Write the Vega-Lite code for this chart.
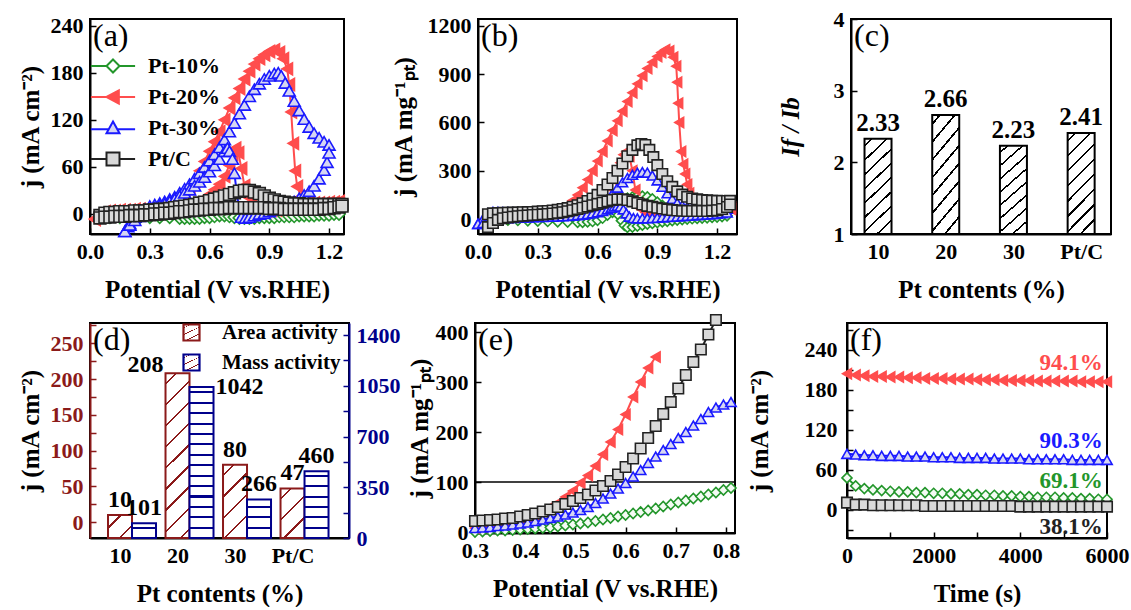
{
"$schema": "https://vega.github.io/schema/vega-lite/v6.json",
"background": "white",
"padding": {"left": 17, "top": 7, "right": 0, "bottom": 0},
"config": {
 "font": "Liberation Serif",
 "view": {"stroke": "black", "strokeWidth": 2},
 "axis": {"labelFont": "Liberation Serif", "labelFontWeight": "bold", "labelFontSize": 22, "labelColor": "black", "titleFont": "Liberation Serif", "titleFontWeight": "bold", "titleFontSize": 25, "titleColor": "black", "domainColor": "black", "domainWidth": 2, "tickColor": "black", "tickWidth": 1.5, "tickSize": -6, "grid": false, "labelPadding": 13, "labelOverlap": false, "labelFlush": false},
 "legend": {"labelFont": "Liberation Serif", "labelFontWeight": "bold", "labelColor": "black"},
 "text": {"font": "Liberation Serif", "fontWeight": "bold", "color": "black"}
},
"datasets": {
"da": [
{"s":"Pt-10%","d":"f","x":0.05,"y":-3},{"s":"Pt-10%","d":"f","x":0.1,"y":-3},{"s":"Pt-10%","d":"f","x":0.15,"y":-3},{"s":"Pt-10%","d":"f","x":0.2,"y":-3},{"s":"Pt-10%","d":"f","x":0.25,"y":-2},{"s":"Pt-10%","d":"f","x":0.3,"y":-2},{"s":"Pt-10%","d":"f","x":0.35,"y":-2},{"s":"Pt-10%","d":"f","x":0.4,"y":-1},{"s":"Pt-10%","d":"f","x":0.45,"y":0},{"s":"Pt-10%","d":"f","x":0.475,"y":0},{"s":"Pt-10%","d":"f","x":0.5,"y":0},{"s":"Pt-10%","d":"f","x":0.525,"y":1},{"s":"Pt-10%","d":"f","x":0.55,"y":1},{"s":"Pt-10%","d":"f","x":0.575,"y":2},{"s":"Pt-10%","d":"f","x":0.6,"y":2},{"s":"Pt-10%","d":"f","x":0.625,"y":3},{"s":"Pt-10%","d":"f","x":0.65,"y":3},{"s":"Pt-10%","d":"f","x":0.675,"y":4},{"s":"Pt-10%","d":"f","x":0.7,"y":4},{"s":"Pt-10%","d":"f","x":0.725,"y":5},{"s":"Pt-10%","d":"f","x":0.75,"y":5},{"s":"Pt-10%","d":"f","x":0.775,"y":4},{"s":"Pt-10%","d":"f","x":0.8,"y":4},{"s":"Pt-10%","d":"f","x":0.825,"y":3},{"s":"Pt-10%","d":"f","x":0.85,"y":3},{"s":"Pt-10%","d":"f","x":0.875,"y":2},{"s":"Pt-10%","d":"f","x":0.9,"y":2},{"s":"Pt-10%","d":"f","x":0.925,"y":2},{"s":"Pt-10%","d":"f","x":0.95,"y":2},{"s":"Pt-10%","d":"f","x":0.975,"y":1},{"s":"Pt-10%","d":"f","x":1.0,"y":1},{"s":"Pt-10%","d":"f","x":1.025,"y":1},{"s":"Pt-10%","d":"f","x":1.05,"y":1},{"s":"Pt-10%","d":"f","x":1.075,"y":1},{"s":"Pt-10%","d":"f","x":1.1,"y":1},{"s":"Pt-10%","d":"f","x":1.125,"y":1},{"s":"Pt-10%","d":"f","x":1.15,"y":2},{"s":"Pt-10%","d":"f","x":1.175,"y":2},{"s":"Pt-10%","d":"f","x":1.2,"y":2},{"s":"Pt-10%","d":"f","x":1.225,"y":3},{"s":"Pt-10%","d":"f","x":1.25,"y":3},
{"s":"Pt-10%","d":"b","x":0.05,"y":-3},{"s":"Pt-10%","d":"b","x":0.1,"y":-4},{"s":"Pt-10%","d":"b","x":0.15,"y":-4},{"s":"Pt-10%","d":"b","x":0.2,"y":-4},{"s":"Pt-10%","d":"b","x":0.25,"y":-4},{"s":"Pt-10%","d":"b","x":0.3,"y":-4},{"s":"Pt-10%","d":"b","x":0.35,"y":-4},{"s":"Pt-10%","d":"b","x":0.4,"y":-4},{"s":"Pt-10%","d":"b","x":0.45,"y":-5},{"s":"Pt-10%","d":"b","x":0.475,"y":-5},{"s":"Pt-10%","d":"b","x":0.5,"y":-5},{"s":"Pt-10%","d":"b","x":0.525,"y":-5},{"s":"Pt-10%","d":"b","x":0.55,"y":-5},{"s":"Pt-10%","d":"b","x":0.575,"y":-4},{"s":"Pt-10%","d":"b","x":0.6,"y":-4},{"s":"Pt-10%","d":"b","x":0.625,"y":-3},{"s":"Pt-10%","d":"b","x":0.65,"y":-2},{"s":"Pt-10%","d":"b","x":0.675,"y":-2},{"s":"Pt-10%","d":"b","x":0.7,"y":-3},{"s":"Pt-10%","d":"b","x":0.725,"y":-4},{"s":"Pt-10%","d":"b","x":0.75,"y":-5},{"s":"Pt-10%","d":"b","x":0.775,"y":-5},{"s":"Pt-10%","d":"b","x":0.8,"y":-5},{"s":"Pt-10%","d":"b","x":0.825,"y":-5},{"s":"Pt-10%","d":"b","x":0.85,"y":-4},{"s":"Pt-10%","d":"b","x":0.875,"y":-4},{"s":"Pt-10%","d":"b","x":0.9,"y":-4},{"s":"Pt-10%","d":"b","x":0.925,"y":-4},{"s":"Pt-10%","d":"b","x":0.95,"y":-3},{"s":"Pt-10%","d":"b","x":0.975,"y":-3},{"s":"Pt-10%","d":"b","x":1.0,"y":-3},{"s":"Pt-10%","d":"b","x":1.025,"y":-3},{"s":"Pt-10%","d":"b","x":1.05,"y":-2},{"s":"Pt-10%","d":"b","x":1.075,"y":-2},{"s":"Pt-10%","d":"b","x":1.1,"y":-2},{"s":"Pt-10%","d":"b","x":1.125,"y":-2},{"s":"Pt-10%","d":"b","x":1.15,"y":-1},{"s":"Pt-10%","d":"b","x":1.175,"y":-1},{"s":"Pt-10%","d":"b","x":1.2,"y":-1},{"s":"Pt-10%","d":"b","x":1.225,"y":0},{"s":"Pt-10%","d":"b","x":1.25,"y":0},
{"s":"Pt-20%","d":"f","x":0.025,"y":-6},{"s":"Pt-20%","d":"f","x":0.05,"y":1},{"s":"Pt-20%","d":"f","x":0.075,"y":3},{"s":"Pt-20%","d":"f","x":0.1,"y":4},{"s":"Pt-20%","d":"f","x":0.125,"y":4},{"s":"Pt-20%","d":"f","x":0.15,"y":5},{"s":"Pt-20%","d":"f","x":0.175,"y":5},{"s":"Pt-20%","d":"f","x":0.2,"y":5},{"s":"Pt-20%","d":"f","x":0.225,"y":6},{"s":"Pt-20%","d":"f","x":0.25,"y":6},{"s":"Pt-20%","d":"f","x":0.275,"y":6},{"s":"Pt-20%","d":"f","x":0.3,"y":7},{"s":"Pt-20%","d":"f","x":0.325,"y":8},{"s":"Pt-20%","d":"f","x":0.35,"y":9},{"s":"Pt-20%","d":"f","x":0.375,"y":11},{"s":"Pt-20%","d":"f","x":0.4,"y":13},{"s":"Pt-20%","d":"f","x":0.425,"y":16},{"s":"Pt-20%","d":"f","x":0.45,"y":20},{"s":"Pt-20%","d":"f","x":0.475,"y":25},{"s":"Pt-20%","d":"f","x":0.5,"y":32},{"s":"Pt-20%","d":"f","x":0.525,"y":42},{"s":"Pt-20%","d":"f","x":0.55,"y":55},{"s":"Pt-20%","d":"f","x":0.575,"y":67},{"s":"Pt-20%","d":"f","x":0.6,"y":80},{"s":"Pt-20%","d":"f","x":0.625,"y":92},{"s":"Pt-20%","d":"f","x":0.65,"y":105},{"s":"Pt-20%","d":"f","x":0.675,"y":120},{"s":"Pt-20%","d":"f","x":0.7,"y":135},{"s":"Pt-20%","d":"f","x":0.725,"y":148},{"s":"Pt-20%","d":"f","x":0.75,"y":160},{"s":"Pt-20%","d":"f","x":0.775,"y":172},{"s":"Pt-20%","d":"f","x":0.8,"y":182},{"s":"Pt-20%","d":"f","x":0.825,"y":191},{"s":"Pt-20%","d":"f","x":0.85,"y":198},{"s":"Pt-20%","d":"f","x":0.875,"y":203},{"s":"Pt-20%","d":"f","x":0.9,"y":207},{"s":"Pt-20%","d":"f","x":0.925,"y":209},{"s":"Pt-20%","d":"f","x":0.95,"y":206},{"s":"Pt-20%","d":"f","x":0.97,"y":198},{"s":"Pt-20%","d":"f","x":0.99,"y":185},{"s":"Pt-20%","d":"f","x":1.0,"y":165},{"s":"Pt-20%","d":"f","x":1.01,"y":130},{"s":"Pt-20%","d":"f","x":1.02,"y":90},{"s":"Pt-20%","d":"f","x":1.03,"y":55},{"s":"Pt-20%","d":"f","x":1.04,"y":35},{"s":"Pt-20%","d":"f","x":1.06,"y":22},{"s":"Pt-20%","d":"f","x":1.08,"y":17},{"s":"Pt-20%","d":"f","x":1.1,"y":15},{"s":"Pt-20%","d":"f","x":1.125,"y":14},{"s":"Pt-20%","d":"f","x":1.15,"y":14},{"s":"Pt-20%","d":"f","x":1.175,"y":14},{"s":"Pt-20%","d":"f","x":1.2,"y":15},{"s":"Pt-20%","d":"f","x":1.225,"y":15},{"s":"Pt-20%","d":"f","x":1.25,"y":16},
{"s":"Pt-20%","d":"b","x":0.025,"y":-7},{"s":"Pt-20%","d":"b","x":0.05,"y":-4},{"s":"Pt-20%","d":"b","x":0.075,"y":-2},{"s":"Pt-20%","d":"b","x":0.1,"y":0},{"s":"Pt-20%","d":"b","x":0.125,"y":1},{"s":"Pt-20%","d":"b","x":0.15,"y":1},{"s":"Pt-20%","d":"b","x":0.175,"y":2},{"s":"Pt-20%","d":"b","x":0.2,"y":2},{"s":"Pt-20%","d":"b","x":0.225,"y":3},{"s":"Pt-20%","d":"b","x":0.25,"y":3},{"s":"Pt-20%","d":"b","x":0.275,"y":4},{"s":"Pt-20%","d":"b","x":0.3,"y":4},{"s":"Pt-20%","d":"b","x":0.325,"y":5},{"s":"Pt-20%","d":"b","x":0.35,"y":5},{"s":"Pt-20%","d":"b","x":0.375,"y":6},{"s":"Pt-20%","d":"b","x":0.4,"y":6},{"s":"Pt-20%","d":"b","x":0.425,"y":7},{"s":"Pt-20%","d":"b","x":0.45,"y":8},{"s":"Pt-20%","d":"b","x":0.475,"y":9},{"s":"Pt-20%","d":"b","x":0.5,"y":11},{"s":"Pt-20%","d":"b","x":0.525,"y":13},{"s":"Pt-20%","d":"b","x":0.55,"y":16},{"s":"Pt-20%","d":"b","x":0.575,"y":20},{"s":"Pt-20%","d":"b","x":0.6,"y":25},{"s":"Pt-20%","d":"b","x":0.625,"y":31},{"s":"Pt-20%","d":"b","x":0.65,"y":38},{"s":"Pt-20%","d":"b","x":0.675,"y":48},{"s":"Pt-20%","d":"b","x":0.7,"y":62},{"s":"Pt-20%","d":"b","x":0.715,"y":76},{"s":"Pt-20%","d":"b","x":0.73,"y":84},{"s":"Pt-20%","d":"b","x":0.745,"y":78},{"s":"Pt-20%","d":"b","x":0.76,"y":58},{"s":"Pt-20%","d":"b","x":0.775,"y":36},{"s":"Pt-20%","d":"b","x":0.79,"y":22},{"s":"Pt-20%","d":"b","x":0.81,"y":12},{"s":"Pt-20%","d":"b","x":0.835,"y":7},{"s":"Pt-20%","d":"b","x":0.86,"y":5},{"s":"Pt-20%","d":"b","x":0.885,"y":4},{"s":"Pt-20%","d":"b","x":0.91,"y":5},{"s":"Pt-20%","d":"b","x":0.935,"y":5},{"s":"Pt-20%","d":"b","x":0.96,"y":6},{"s":"Pt-20%","d":"b","x":0.985,"y":7},{"s":"Pt-20%","d":"b","x":1.01,"y":8},{"s":"Pt-20%","d":"b","x":1.035,"y":8},{"s":"Pt-20%","d":"b","x":1.06,"y":9},{"s":"Pt-20%","d":"b","x":1.085,"y":9},{"s":"Pt-20%","d":"b","x":1.11,"y":10},{"s":"Pt-20%","d":"b","x":1.135,"y":10},{"s":"Pt-20%","d":"b","x":1.16,"y":11},{"s":"Pt-20%","d":"b","x":1.185,"y":11},{"s":"Pt-20%","d":"b","x":1.21,"y":12},{"s":"Pt-20%","d":"b","x":1.235,"y":13},{"s":"Pt-20%","d":"b","x":1.25,"y":14},
{"s":"Pt-30%","d":"f","x":0.175,"y":-22},{"s":"Pt-30%","d":"f","x":0.19,"y":-16},{"s":"Pt-30%","d":"f","x":0.2,"y":-12},{"s":"Pt-30%","d":"f","x":0.225,"y":-4},{"s":"Pt-30%","d":"f","x":0.25,"y":2},{"s":"Pt-30%","d":"f","x":0.275,"y":6},{"s":"Pt-30%","d":"f","x":0.3,"y":10},{"s":"Pt-30%","d":"f","x":0.325,"y":12},{"s":"Pt-30%","d":"f","x":0.35,"y":14},{"s":"Pt-30%","d":"f","x":0.375,"y":16},{"s":"Pt-30%","d":"f","x":0.4,"y":19},{"s":"Pt-30%","d":"f","x":0.425,"y":22},{"s":"Pt-30%","d":"f","x":0.45,"y":27},{"s":"Pt-30%","d":"f","x":0.475,"y":32},{"s":"Pt-30%","d":"f","x":0.5,"y":38},{"s":"Pt-30%","d":"f","x":0.525,"y":45},{"s":"Pt-30%","d":"f","x":0.55,"y":52},{"s":"Pt-30%","d":"f","x":0.575,"y":60},{"s":"Pt-30%","d":"f","x":0.6,"y":68},{"s":"Pt-30%","d":"f","x":0.625,"y":76},{"s":"Pt-30%","d":"f","x":0.65,"y":85},{"s":"Pt-30%","d":"f","x":0.675,"y":95},{"s":"Pt-30%","d":"f","x":0.7,"y":105},{"s":"Pt-30%","d":"f","x":0.725,"y":116},{"s":"Pt-30%","d":"f","x":0.75,"y":128},{"s":"Pt-30%","d":"f","x":0.775,"y":139},{"s":"Pt-30%","d":"f","x":0.8,"y":150},{"s":"Pt-30%","d":"f","x":0.825,"y":159},{"s":"Pt-30%","d":"f","x":0.85,"y":166},{"s":"Pt-30%","d":"f","x":0.875,"y":172},{"s":"Pt-30%","d":"f","x":0.9,"y":176},{"s":"Pt-30%","d":"f","x":0.925,"y":179},{"s":"Pt-30%","d":"f","x":0.945,"y":180},{"s":"Pt-30%","d":"f","x":0.96,"y":176},{"s":"Pt-30%","d":"f","x":0.98,"y":167},{"s":"Pt-30%","d":"f","x":1.0,"y":157},{"s":"Pt-30%","d":"f","x":1.025,"y":144},{"s":"Pt-30%","d":"f","x":1.05,"y":132},{"s":"Pt-30%","d":"f","x":1.075,"y":121},{"s":"Pt-30%","d":"f","x":1.1,"y":111},{"s":"Pt-30%","d":"f","x":1.125,"y":103},{"s":"Pt-30%","d":"f","x":1.15,"y":97},{"s":"Pt-30%","d":"f","x":1.175,"y":92},{"s":"Pt-30%","d":"f","x":1.2,"y":88},
{"s":"Pt-30%","d":"b","x":0.175,"y":-22},{"s":"Pt-30%","d":"b","x":0.2,"y":-14},{"s":"Pt-30%","d":"b","x":0.225,"y":-8},{"s":"Pt-30%","d":"b","x":0.25,"y":-3},{"s":"Pt-30%","d":"b","x":0.275,"y":1},{"s":"Pt-30%","d":"b","x":0.3,"y":5},{"s":"Pt-30%","d":"b","x":0.325,"y":8},{"s":"Pt-30%","d":"b","x":0.35,"y":11},{"s":"Pt-30%","d":"b","x":0.375,"y":13},{"s":"Pt-30%","d":"b","x":0.4,"y":16},{"s":"Pt-30%","d":"b","x":0.425,"y":19},{"s":"Pt-30%","d":"b","x":0.45,"y":23},{"s":"Pt-30%","d":"b","x":0.475,"y":27},{"s":"Pt-30%","d":"b","x":0.5,"y":31},{"s":"Pt-30%","d":"b","x":0.525,"y":36},{"s":"Pt-30%","d":"b","x":0.55,"y":41},{"s":"Pt-30%","d":"b","x":0.575,"y":47},{"s":"Pt-30%","d":"b","x":0.6,"y":54},{"s":"Pt-30%","d":"b","x":0.625,"y":62},{"s":"Pt-30%","d":"b","x":0.65,"y":70},{"s":"Pt-30%","d":"b","x":0.675,"y":80},{"s":"Pt-30%","d":"b","x":0.69,"y":84},{"s":"Pt-30%","d":"b","x":0.7,"y":80},{"s":"Pt-30%","d":"b","x":0.715,"y":70},{"s":"Pt-30%","d":"b","x":0.725,"y":52},{"s":"Pt-30%","d":"b","x":0.735,"y":30},{"s":"Pt-30%","d":"b","x":0.745,"y":10},{"s":"Pt-30%","d":"b","x":0.76,"y":-4},{"s":"Pt-30%","d":"b","x":0.78,"y":-5},{"s":"Pt-30%","d":"b","x":0.8,"y":-4},{"s":"Pt-30%","d":"b","x":0.825,"y":-2},{"s":"Pt-30%","d":"b","x":0.85,"y":0},{"s":"Pt-30%","d":"b","x":0.875,"y":1},{"s":"Pt-30%","d":"b","x":0.9,"y":3},{"s":"Pt-30%","d":"b","x":0.925,"y":5},{"s":"Pt-30%","d":"b","x":0.95,"y":7},{"s":"Pt-30%","d":"b","x":0.975,"y":10},{"s":"Pt-30%","d":"b","x":1.0,"y":13},{"s":"Pt-30%","d":"b","x":1.025,"y":16},{"s":"Pt-30%","d":"b","x":1.05,"y":20},{"s":"Pt-30%","d":"b","x":1.075,"y":24},{"s":"Pt-30%","d":"b","x":1.1,"y":29},{"s":"Pt-30%","d":"b","x":1.125,"y":36},{"s":"Pt-30%","d":"b","x":1.15,"y":45},{"s":"Pt-30%","d":"b","x":1.175,"y":56},{"s":"Pt-30%","d":"b","x":1.19,"y":66},{"s":"Pt-30%","d":"b","x":1.2,"y":78},
{"s":"Pt/C","d":"f","x":0.05,"y":-2},{"s":"Pt/C","d":"f","x":0.075,"y":1},{"s":"Pt/C","d":"f","x":0.1,"y":2},{"s":"Pt/C","d":"f","x":0.125,"y":2},{"s":"Pt/C","d":"f","x":0.15,"y":3},{"s":"Pt/C","d":"f","x":0.175,"y":3},{"s":"Pt/C","d":"f","x":0.2,"y":3},{"s":"Pt/C","d":"f","x":0.225,"y":4},{"s":"Pt/C","d":"f","x":0.25,"y":4},{"s":"Pt/C","d":"f","x":0.275,"y":4},{"s":"Pt/C","d":"f","x":0.3,"y":5},{"s":"Pt/C","d":"f","x":0.325,"y":5},{"s":"Pt/C","d":"f","x":0.35,"y":6},{"s":"Pt/C","d":"f","x":0.375,"y":6},{"s":"Pt/C","d":"f","x":0.4,"y":7},{"s":"Pt/C","d":"f","x":0.425,"y":8},{"s":"Pt/C","d":"f","x":0.45,"y":9},{"s":"Pt/C","d":"f","x":0.475,"y":10},{"s":"Pt/C","d":"f","x":0.5,"y":11},{"s":"Pt/C","d":"f","x":0.525,"y":12},{"s":"Pt/C","d":"f","x":0.55,"y":14},{"s":"Pt/C","d":"f","x":0.575,"y":15},{"s":"Pt/C","d":"f","x":0.6,"y":17},{"s":"Pt/C","d":"f","x":0.625,"y":19},{"s":"Pt/C","d":"f","x":0.65,"y":21},{"s":"Pt/C","d":"f","x":0.675,"y":23},{"s":"Pt/C","d":"f","x":0.7,"y":25},{"s":"Pt/C","d":"f","x":0.725,"y":27},{"s":"Pt/C","d":"f","x":0.75,"y":29},{"s":"Pt/C","d":"f","x":0.775,"y":30},{"s":"Pt/C","d":"f","x":0.8,"y":30},{"s":"Pt/C","d":"f","x":0.825,"y":28},{"s":"Pt/C","d":"f","x":0.85,"y":26},{"s":"Pt/C","d":"f","x":0.875,"y":23},{"s":"Pt/C","d":"f","x":0.9,"y":20},{"s":"Pt/C","d":"f","x":0.925,"y":18},{"s":"Pt/C","d":"f","x":0.95,"y":16},{"s":"Pt/C","d":"f","x":0.975,"y":15},{"s":"Pt/C","d":"f","x":1.0,"y":14},{"s":"Pt/C","d":"f","x":1.025,"y":13},{"s":"Pt/C","d":"f","x":1.05,"y":13},{"s":"Pt/C","d":"f","x":1.075,"y":12},{"s":"Pt/C","d":"f","x":1.1,"y":12},{"s":"Pt/C","d":"f","x":1.125,"y":12},{"s":"Pt/C","d":"f","x":1.15,"y":12},{"s":"Pt/C","d":"f","x":1.175,"y":12},{"s":"Pt/C","d":"f","x":1.2,"y":12},{"s":"Pt/C","d":"f","x":1.225,"y":12},{"s":"Pt/C","d":"f","x":1.25,"y":12},{"s":"Pt/C","d":"f","x":1.265,"y":12},
{"s":"Pt/C","d":"b","x":0.05,"y":-5},{"s":"Pt/C","d":"b","x":0.075,"y":-4},{"s":"Pt/C","d":"b","x":0.1,"y":-4},{"s":"Pt/C","d":"b","x":0.125,"y":-3},{"s":"Pt/C","d":"b","x":0.15,"y":-3},{"s":"Pt/C","d":"b","x":0.175,"y":-3},{"s":"Pt/C","d":"b","x":0.2,"y":-2},{"s":"Pt/C","d":"b","x":0.225,"y":-2},{"s":"Pt/C","d":"b","x":0.25,"y":-2},{"s":"Pt/C","d":"b","x":0.275,"y":-1},{"s":"Pt/C","d":"b","x":0.3,"y":-1},{"s":"Pt/C","d":"b","x":0.325,"y":0},{"s":"Pt/C","d":"b","x":0.35,"y":0},{"s":"Pt/C","d":"b","x":0.375,"y":1},{"s":"Pt/C","d":"b","x":0.4,"y":1},{"s":"Pt/C","d":"b","x":0.425,"y":2},{"s":"Pt/C","d":"b","x":0.45,"y":3},{"s":"Pt/C","d":"b","x":0.475,"y":3},{"s":"Pt/C","d":"b","x":0.5,"y":4},{"s":"Pt/C","d":"b","x":0.525,"y":5},{"s":"Pt/C","d":"b","x":0.55,"y":5},{"s":"Pt/C","d":"b","x":0.575,"y":6},{"s":"Pt/C","d":"b","x":0.6,"y":6},{"s":"Pt/C","d":"b","x":0.625,"y":7},{"s":"Pt/C","d":"b","x":0.65,"y":7},{"s":"Pt/C","d":"b","x":0.675,"y":7},{"s":"Pt/C","d":"b","x":0.7,"y":8},{"s":"Pt/C","d":"b","x":0.725,"y":8},{"s":"Pt/C","d":"b","x":0.75,"y":8},{"s":"Pt/C","d":"b","x":0.775,"y":8},{"s":"Pt/C","d":"b","x":0.8,"y":8},{"s":"Pt/C","d":"b","x":0.825,"y":8},{"s":"Pt/C","d":"b","x":0.85,"y":8},{"s":"Pt/C","d":"b","x":0.875,"y":8},{"s":"Pt/C","d":"b","x":0.9,"y":7},{"s":"Pt/C","d":"b","x":0.925,"y":7},{"s":"Pt/C","d":"b","x":0.95,"y":7},{"s":"Pt/C","d":"b","x":0.975,"y":6},{"s":"Pt/C","d":"b","x":1.0,"y":6},{"s":"Pt/C","d":"b","x":1.025,"y":6},{"s":"Pt/C","d":"b","x":1.05,"y":6},{"s":"Pt/C","d":"b","x":1.075,"y":6},{"s":"Pt/C","d":"b","x":1.1,"y":6},{"s":"Pt/C","d":"b","x":1.125,"y":6},{"s":"Pt/C","d":"b","x":1.15,"y":6},{"s":"Pt/C","d":"b","x":1.175,"y":7},{"s":"Pt/C","d":"b","x":1.2,"y":7},{"s":"Pt/C","d":"b","x":1.225,"y":8},{"s":"Pt/C","d":"b","x":1.25,"y":9},{"s":"Pt/C","d":"b","x":1.265,"y":10}
],
"db": [
{"s":"Pt-10%","d":"f","x":0.05,"y":0},{"s":"Pt-10%","d":"f","x":0.1,"y":3},{"s":"Pt-10%","d":"f","x":0.15,"y":5},{"s":"Pt-10%","d":"f","x":0.2,"y":6},{"s":"Pt-10%","d":"f","x":0.25,"y":7},{"s":"Pt-10%","d":"f","x":0.3,"y":8},{"s":"Pt-10%","d":"f","x":0.35,"y":9},{"s":"Pt-10%","d":"f","x":0.4,"y":11},{"s":"Pt-10%","d":"f","x":0.45,"y":14},{"s":"Pt-10%","d":"f","x":0.475,"y":17},{"s":"Pt-10%","d":"f","x":0.5,"y":20},{"s":"Pt-10%","d":"f","x":0.525,"y":25},{"s":"Pt-10%","d":"f","x":0.55,"y":32},{"s":"Pt-10%","d":"f","x":0.575,"y":42},{"s":"Pt-10%","d":"f","x":0.6,"y":55},{"s":"Pt-10%","d":"f","x":0.625,"y":70},{"s":"Pt-10%","d":"f","x":0.65,"y":85},{"s":"Pt-10%","d":"f","x":0.675,"y":100},{"s":"Pt-10%","d":"f","x":0.7,"y":112},{"s":"Pt-10%","d":"f","x":0.725,"y":122},{"s":"Pt-10%","d":"f","x":0.75,"y":130},{"s":"Pt-10%","d":"f","x":0.775,"y":137},{"s":"Pt-10%","d":"f","x":0.8,"y":141},{"s":"Pt-10%","d":"f","x":0.825,"y":142},{"s":"Pt-10%","d":"f","x":0.85,"y":138},{"s":"Pt-10%","d":"f","x":0.875,"y":125},{"s":"Pt-10%","d":"f","x":0.9,"y":105},{"s":"Pt-10%","d":"f","x":0.925,"y":85},{"s":"Pt-10%","d":"f","x":0.95,"y":70},{"s":"Pt-10%","d":"f","x":0.975,"y":58},{"s":"Pt-10%","d":"f","x":1.0,"y":50},{"s":"Pt-10%","d":"f","x":1.025,"y":45},{"s":"Pt-10%","d":"f","x":1.05,"y":42},{"s":"Pt-10%","d":"f","x":1.075,"y":40},{"s":"Pt-10%","d":"f","x":1.1,"y":40},{"s":"Pt-10%","d":"f","x":1.125,"y":40},{"s":"Pt-10%","d":"f","x":1.15,"y":41},{"s":"Pt-10%","d":"f","x":1.175,"y":42},{"s":"Pt-10%","d":"f","x":1.2,"y":43},{"s":"Pt-10%","d":"f","x":1.225,"y":44},{"s":"Pt-10%","d":"f","x":1.25,"y":45},
{"s":"Pt-10%","d":"b","x":0.05,"y":0},{"s":"Pt-10%","d":"b","x":0.1,"y":-4},{"s":"Pt-10%","d":"b","x":0.15,"y":-7},{"s":"Pt-10%","d":"b","x":0.2,"y":-9},{"s":"Pt-10%","d":"b","x":0.25,"y":-11},{"s":"Pt-10%","d":"b","x":0.3,"y":-13},{"s":"Pt-10%","d":"b","x":0.35,"y":-15},{"s":"Pt-10%","d":"b","x":0.4,"y":-17},{"s":"Pt-10%","d":"b","x":0.45,"y":-19},{"s":"Pt-10%","d":"b","x":0.5,"y":-20},{"s":"Pt-10%","d":"b","x":0.525,"y":-20},{"s":"Pt-10%","d":"b","x":0.55,"y":-18},{"s":"Pt-10%","d":"b","x":0.575,"y":-15},{"s":"Pt-10%","d":"b","x":0.6,"y":-8},{"s":"Pt-10%","d":"b","x":0.625,"y":5},{"s":"Pt-10%","d":"b","x":0.65,"y":25},{"s":"Pt-10%","d":"b","x":0.675,"y":42},{"s":"Pt-10%","d":"b","x":0.69,"y":45},{"s":"Pt-10%","d":"b","x":0.705,"y":25},{"s":"Pt-10%","d":"b","x":0.72,"y":-10},{"s":"Pt-10%","d":"b","x":0.735,"y":-40},{"s":"Pt-10%","d":"b","x":0.75,"y":-52},{"s":"Pt-10%","d":"b","x":0.775,"y":-50},{"s":"Pt-10%","d":"b","x":0.8,"y":-44},{"s":"Pt-10%","d":"b","x":0.825,"y":-38},{"s":"Pt-10%","d":"b","x":0.85,"y":-32},{"s":"Pt-10%","d":"b","x":0.875,"y":-27},{"s":"Pt-10%","d":"b","x":0.9,"y":-22},{"s":"Pt-10%","d":"b","x":0.925,"y":-18},{"s":"Pt-10%","d":"b","x":0.95,"y":-14},{"s":"Pt-10%","d":"b","x":0.975,"y":-10},{"s":"Pt-10%","d":"b","x":1.0,"y":-6},{"s":"Pt-10%","d":"b","x":1.025,"y":-3},{"s":"Pt-10%","d":"b","x":1.05,"y":0},{"s":"Pt-10%","d":"b","x":1.075,"y":2},{"s":"Pt-10%","d":"b","x":1.1,"y":4},{"s":"Pt-10%","d":"b","x":1.125,"y":6},{"s":"Pt-10%","d":"b","x":1.15,"y":8},{"s":"Pt-10%","d":"b","x":1.175,"y":10},{"s":"Pt-10%","d":"b","x":1.2,"y":12},{"s":"Pt-10%","d":"b","x":1.225,"y":15},{"s":"Pt-10%","d":"b","x":1.25,"y":20},
{"s":"Pt-20%","d":"f","x":0.025,"y":-20},{"s":"Pt-20%","d":"f","x":0.05,"y":15},{"s":"Pt-20%","d":"f","x":0.075,"y":25},{"s":"Pt-20%","d":"f","x":0.1,"y":30},{"s":"Pt-20%","d":"f","x":0.125,"y":32},{"s":"Pt-20%","d":"f","x":0.15,"y":33},{"s":"Pt-20%","d":"f","x":0.175,"y":34},{"s":"Pt-20%","d":"f","x":0.2,"y":35},{"s":"Pt-20%","d":"f","x":0.225,"y":36},{"s":"Pt-20%","d":"f","x":0.25,"y":37},{"s":"Pt-20%","d":"f","x":0.275,"y":38},{"s":"Pt-20%","d":"f","x":0.3,"y":40},{"s":"Pt-20%","d":"f","x":0.325,"y":42},{"s":"Pt-20%","d":"f","x":0.35,"y":45},{"s":"Pt-20%","d":"f","x":0.375,"y":50},{"s":"Pt-20%","d":"f","x":0.4,"y":58},{"s":"Pt-20%","d":"f","x":0.425,"y":70},{"s":"Pt-20%","d":"f","x":0.45,"y":88},{"s":"Pt-20%","d":"f","x":0.475,"y":115},{"s":"Pt-20%","d":"f","x":0.5,"y":150},{"s":"Pt-20%","d":"f","x":0.525,"y":195},{"s":"Pt-20%","d":"f","x":0.55,"y":245},{"s":"Pt-20%","d":"f","x":0.575,"y":300},{"s":"Pt-20%","d":"f","x":0.6,"y":360},{"s":"Pt-20%","d":"f","x":0.625,"y":420},{"s":"Pt-20%","d":"f","x":0.65,"y":485},{"s":"Pt-20%","d":"f","x":0.675,"y":550},{"s":"Pt-20%","d":"f","x":0.7,"y":610},{"s":"Pt-20%","d":"f","x":0.725,"y":670},{"s":"Pt-20%","d":"f","x":0.75,"y":730},{"s":"Pt-20%","d":"f","x":0.775,"y":785},{"s":"Pt-20%","d":"f","x":0.8,"y":840},{"s":"Pt-20%","d":"f","x":0.825,"y":890},{"s":"Pt-20%","d":"f","x":0.85,"y":935},{"s":"Pt-20%","d":"f","x":0.875,"y":975},{"s":"Pt-20%","d":"f","x":0.9,"y":1010},{"s":"Pt-20%","d":"f","x":0.92,"y":1035},{"s":"Pt-20%","d":"f","x":0.94,"y":1052},{"s":"Pt-20%","d":"f","x":0.96,"y":1045},{"s":"Pt-20%","d":"f","x":0.98,"y":1005},{"s":"Pt-20%","d":"f","x":0.995,"y":950},{"s":"Pt-20%","d":"f","x":1.0,"y":850},{"s":"Pt-20%","d":"f","x":1.005,"y":720},{"s":"Pt-20%","d":"f","x":1.01,"y":600},{"s":"Pt-20%","d":"f","x":1.02,"y":420},{"s":"Pt-20%","d":"f","x":1.03,"y":340},{"s":"Pt-20%","d":"f","x":1.04,"y":280},{"s":"Pt-20%","d":"f","x":1.05,"y":215},{"s":"Pt-20%","d":"f","x":1.06,"y":160},{"s":"Pt-20%","d":"f","x":1.08,"y":120},{"s":"Pt-20%","d":"f","x":1.1,"y":100},{"s":"Pt-20%","d":"f","x":1.125,"y":85},{"s":"Pt-20%","d":"f","x":1.15,"y":75},{"s":"Pt-20%","d":"f","x":1.175,"y":70},{"s":"Pt-20%","d":"f","x":1.2,"y":68},{"s":"Pt-20%","d":"f","x":1.225,"y":68},{"s":"Pt-20%","d":"f","x":1.25,"y":70},{"s":"Pt-20%","d":"f","x":1.27,"y":72},
{"s":"Pt-20%","d":"b","x":0.025,"y":-25},{"s":"Pt-20%","d":"b","x":0.05,"y":-10},{"s":"Pt-20%","d":"b","x":0.075,"y":0},{"s":"Pt-20%","d":"b","x":0.1,"y":5},{"s":"Pt-20%","d":"b","x":0.125,"y":8},{"s":"Pt-20%","d":"b","x":0.15,"y":10},{"s":"Pt-20%","d":"b","x":0.175,"y":12},{"s":"Pt-20%","d":"b","x":0.2,"y":14},{"s":"Pt-20%","d":"b","x":0.225,"y":16},{"s":"Pt-20%","d":"b","x":0.25,"y":18},{"s":"Pt-20%","d":"b","x":0.275,"y":20},{"s":"Pt-20%","d":"b","x":0.3,"y":22},{"s":"Pt-20%","d":"b","x":0.325,"y":25},{"s":"Pt-20%","d":"b","x":0.35,"y":28},{"s":"Pt-20%","d":"b","x":0.375,"y":31},{"s":"Pt-20%","d":"b","x":0.4,"y":35},{"s":"Pt-20%","d":"b","x":0.425,"y":40},{"s":"Pt-20%","d":"b","x":0.45,"y":46},{"s":"Pt-20%","d":"b","x":0.475,"y":54},{"s":"Pt-20%","d":"b","x":0.5,"y":63},{"s":"Pt-20%","d":"b","x":0.525,"y":75},{"s":"Pt-20%","d":"b","x":0.55,"y":90},{"s":"Pt-20%","d":"b","x":0.575,"y":110},{"s":"Pt-20%","d":"b","x":0.6,"y":135},{"s":"Pt-20%","d":"b","x":0.625,"y":165},{"s":"Pt-20%","d":"b","x":0.65,"y":200},{"s":"Pt-20%","d":"b","x":0.675,"y":245},{"s":"Pt-20%","d":"b","x":0.7,"y":300},{"s":"Pt-20%","d":"b","x":0.715,"y":350},{"s":"Pt-20%","d":"b","x":0.73,"y":400},{"s":"Pt-20%","d":"b","x":0.745,"y":420},{"s":"Pt-20%","d":"b","x":0.76,"y":390},{"s":"Pt-20%","d":"b","x":0.775,"y":300},{"s":"Pt-20%","d":"b","x":0.79,"y":180},{"s":"Pt-20%","d":"b","x":0.805,"y":100},{"s":"Pt-20%","d":"b","x":0.82,"y":60},{"s":"Pt-20%","d":"b","x":0.84,"y":40},{"s":"Pt-20%","d":"b","x":0.86,"y":32},{"s":"Pt-20%","d":"b","x":0.885,"y":30},{"s":"Pt-20%","d":"b","x":0.91,"y":30},{"s":"Pt-20%","d":"b","x":0.935,"y":31},{"s":"Pt-20%","d":"b","x":0.96,"y":32},{"s":"Pt-20%","d":"b","x":0.985,"y":34},{"s":"Pt-20%","d":"b","x":1.01,"y":36},{"s":"Pt-20%","d":"b","x":1.035,"y":38},{"s":"Pt-20%","d":"b","x":1.06,"y":40},{"s":"Pt-20%","d":"b","x":1.085,"y":42},{"s":"Pt-20%","d":"b","x":1.11,"y":44},{"s":"Pt-20%","d":"b","x":1.135,"y":46},{"s":"Pt-20%","d":"b","x":1.16,"y":48},{"s":"Pt-20%","d":"b","x":1.185,"y":50},{"s":"Pt-20%","d":"b","x":1.21,"y":52},{"s":"Pt-20%","d":"b","x":1.235,"y":55},{"s":"Pt-20%","d":"b","x":1.27,"y":60},
{"s":"Pt-30%","d":"f","x":0.0,"y":-30},{"s":"Pt-30%","d":"f","x":0.025,"y":0},{"s":"Pt-30%","d":"f","x":0.05,"y":35},{"s":"Pt-30%","d":"f","x":0.075,"y":45},{"s":"Pt-30%","d":"f","x":0.1,"y":45},{"s":"Pt-30%","d":"f","x":0.125,"y":44},{"s":"Pt-30%","d":"f","x":0.15,"y":43},{"s":"Pt-30%","d":"f","x":0.175,"y":42},{"s":"Pt-30%","d":"f","x":0.2,"y":42},{"s":"Pt-30%","d":"f","x":0.225,"y":42},{"s":"Pt-30%","d":"f","x":0.25,"y":42},{"s":"Pt-30%","d":"f","x":0.275,"y":42},{"s":"Pt-30%","d":"f","x":0.3,"y":42},{"s":"Pt-30%","d":"f","x":0.325,"y":43},{"s":"Pt-30%","d":"f","x":0.35,"y":44},{"s":"Pt-30%","d":"f","x":0.375,"y":45},{"s":"Pt-30%","d":"f","x":0.4,"y":46},{"s":"Pt-30%","d":"f","x":0.425,"y":48},{"s":"Pt-30%","d":"f","x":0.45,"y":50},{"s":"Pt-30%","d":"f","x":0.475,"y":53},{"s":"Pt-30%","d":"f","x":0.5,"y":57},{"s":"Pt-30%","d":"f","x":0.525,"y":62},{"s":"Pt-30%","d":"f","x":0.55,"y":68},{"s":"Pt-30%","d":"f","x":0.575,"y":76},{"s":"Pt-30%","d":"f","x":0.6,"y":88},{"s":"Pt-30%","d":"f","x":0.625,"y":105},{"s":"Pt-30%","d":"f","x":0.65,"y":130},{"s":"Pt-30%","d":"f","x":0.675,"y":160},{"s":"Pt-30%","d":"f","x":0.7,"y":195},{"s":"Pt-30%","d":"f","x":0.725,"y":228},{"s":"Pt-30%","d":"f","x":0.75,"y":255},{"s":"Pt-30%","d":"f","x":0.775,"y":275},{"s":"Pt-30%","d":"f","x":0.8,"y":287},{"s":"Pt-30%","d":"f","x":0.825,"y":292},{"s":"Pt-30%","d":"f","x":0.85,"y":288},{"s":"Pt-30%","d":"f","x":0.875,"y":270},{"s":"Pt-30%","d":"f","x":0.9,"y":240},{"s":"Pt-30%","d":"f","x":0.925,"y":200},{"s":"Pt-30%","d":"f","x":0.95,"y":160},{"s":"Pt-30%","d":"f","x":0.975,"y":125},{"s":"Pt-30%","d":"f","x":1.0,"y":100},{"s":"Pt-30%","d":"f","x":1.025,"y":85},{"s":"Pt-30%","d":"f","x":1.05,"y":75},{"s":"Pt-30%","d":"f","x":1.075,"y":68},{"s":"Pt-30%","d":"f","x":1.1,"y":64},{"s":"Pt-30%","d":"f","x":1.125,"y":62},{"s":"Pt-30%","d":"f","x":1.15,"y":61},{"s":"Pt-30%","d":"f","x":1.175,"y":61},{"s":"Pt-30%","d":"f","x":1.2,"y":62},{"s":"Pt-30%","d":"f","x":1.225,"y":63},{"s":"Pt-30%","d":"f","x":1.25,"y":64},
{"s":"Pt-30%","d":"b","x":0.0,"y":-30},{"s":"Pt-30%","d":"b","x":0.025,"y":-25},{"s":"Pt-30%","d":"b","x":0.05,"y":-15},{"s":"Pt-30%","d":"b","x":0.075,"y":-5},{"s":"Pt-30%","d":"b","x":0.1,"y":0},{"s":"Pt-30%","d":"b","x":0.125,"y":3},{"s":"Pt-30%","d":"b","x":0.15,"y":5},{"s":"Pt-30%","d":"b","x":0.175,"y":7},{"s":"Pt-30%","d":"b","x":0.2,"y":8},{"s":"Pt-30%","d":"b","x":0.225,"y":9},{"s":"Pt-30%","d":"b","x":0.25,"y":10},{"s":"Pt-30%","d":"b","x":0.275,"y":11},{"s":"Pt-30%","d":"b","x":0.3,"y":12},{"s":"Pt-30%","d":"b","x":0.325,"y":13},{"s":"Pt-30%","d":"b","x":0.35,"y":14},{"s":"Pt-30%","d":"b","x":0.375,"y":15},{"s":"Pt-30%","d":"b","x":0.4,"y":16},{"s":"Pt-30%","d":"b","x":0.425,"y":17},{"s":"Pt-30%","d":"b","x":0.45,"y":19},{"s":"Pt-30%","d":"b","x":0.475,"y":21},{"s":"Pt-30%","d":"b","x":0.5,"y":24},{"s":"Pt-30%","d":"b","x":0.525,"y":27},{"s":"Pt-30%","d":"b","x":0.55,"y":31},{"s":"Pt-30%","d":"b","x":0.575,"y":36},{"s":"Pt-30%","d":"b","x":0.6,"y":42},{"s":"Pt-30%","d":"b","x":0.625,"y":50},{"s":"Pt-30%","d":"b","x":0.65,"y":60},{"s":"Pt-30%","d":"b","x":0.67,"y":70},{"s":"Pt-30%","d":"b","x":0.685,"y":78},{"s":"Pt-30%","d":"b","x":0.7,"y":82},{"s":"Pt-30%","d":"b","x":0.715,"y":78},{"s":"Pt-30%","d":"b","x":0.73,"y":60},{"s":"Pt-30%","d":"b","x":0.745,"y":35},{"s":"Pt-30%","d":"b","x":0.76,"y":15},{"s":"Pt-30%","d":"b","x":0.78,"y":6},{"s":"Pt-30%","d":"b","x":0.8,"y":4},{"s":"Pt-30%","d":"b","x":0.825,"y":4},{"s":"Pt-30%","d":"b","x":0.85,"y":5},{"s":"Pt-30%","d":"b","x":0.875,"y":6},{"s":"Pt-30%","d":"b","x":0.9,"y":8},{"s":"Pt-30%","d":"b","x":0.925,"y":10},{"s":"Pt-30%","d":"b","x":0.95,"y":12},{"s":"Pt-30%","d":"b","x":0.975,"y":14},{"s":"Pt-30%","d":"b","x":1.0,"y":16},{"s":"Pt-30%","d":"b","x":1.025,"y":18},{"s":"Pt-30%","d":"b","x":1.05,"y":20},{"s":"Pt-30%","d":"b","x":1.075,"y":22},{"s":"Pt-30%","d":"b","x":1.1,"y":24},{"s":"Pt-30%","d":"b","x":1.125,"y":26},{"s":"Pt-30%","d":"b","x":1.15,"y":28},{"s":"Pt-30%","d":"b","x":1.175,"y":30},{"s":"Pt-30%","d":"b","x":1.2,"y":33},{"s":"Pt-30%","d":"b","x":1.225,"y":36},{"s":"Pt-30%","d":"b","x":1.25,"y":40},
{"s":"Pt/C","d":"f","x":0.05,"y":30},{"s":"Pt/C","d":"f","x":0.075,"y":35},{"s":"Pt/C","d":"f","x":0.1,"y":37},{"s":"Pt/C","d":"f","x":0.125,"y":38},{"s":"Pt/C","d":"f","x":0.15,"y":39},{"s":"Pt/C","d":"f","x":0.175,"y":40},{"s":"Pt/C","d":"f","x":0.2,"y":41},{"s":"Pt/C","d":"f","x":0.225,"y":42},{"s":"Pt/C","d":"f","x":0.25,"y":43},{"s":"Pt/C","d":"f","x":0.275,"y":44},{"s":"Pt/C","d":"f","x":0.3,"y":46},{"s":"Pt/C","d":"f","x":0.325,"y":48},{"s":"Pt/C","d":"f","x":0.35,"y":50},{"s":"Pt/C","d":"f","x":0.375,"y":53},{"s":"Pt/C","d":"f","x":0.4,"y":57},{"s":"Pt/C","d":"f","x":0.425,"y":62},{"s":"Pt/C","d":"f","x":0.45,"y":68},{"s":"Pt/C","d":"f","x":0.475,"y":76},{"s":"Pt/C","d":"f","x":0.5,"y":86},{"s":"Pt/C","d":"f","x":0.525,"y":98},{"s":"Pt/C","d":"f","x":0.55,"y":112},{"s":"Pt/C","d":"f","x":0.575,"y":128},{"s":"Pt/C","d":"f","x":0.6,"y":150},{"s":"Pt/C","d":"f","x":0.625,"y":180},{"s":"Pt/C","d":"f","x":0.65,"y":215},{"s":"Pt/C","d":"f","x":0.675,"y":255},{"s":"Pt/C","d":"f","x":0.7,"y":300},{"s":"Pt/C","d":"f","x":0.725,"y":345},{"s":"Pt/C","d":"f","x":0.75,"y":390},{"s":"Pt/C","d":"f","x":0.775,"y":430},{"s":"Pt/C","d":"f","x":0.8,"y":458},{"s":"Pt/C","d":"f","x":0.82,"y":466},{"s":"Pt/C","d":"f","x":0.84,"y":460},{"s":"Pt/C","d":"f","x":0.86,"y":430},{"s":"Pt/C","d":"f","x":0.88,"y":385},{"s":"Pt/C","d":"f","x":0.9,"y":335},{"s":"Pt/C","d":"f","x":0.925,"y":280},{"s":"Pt/C","d":"f","x":0.95,"y":235},{"s":"Pt/C","d":"f","x":0.975,"y":200},{"s":"Pt/C","d":"f","x":1.0,"y":172},{"s":"Pt/C","d":"f","x":1.025,"y":152},{"s":"Pt/C","d":"f","x":1.05,"y":138},{"s":"Pt/C","d":"f","x":1.075,"y":128},{"s":"Pt/C","d":"f","x":1.1,"y":122},{"s":"Pt/C","d":"f","x":1.125,"y":118},{"s":"Pt/C","d":"f","x":1.15,"y":116},{"s":"Pt/C","d":"f","x":1.175,"y":114},{"s":"Pt/C","d":"f","x":1.2,"y":113},{"s":"Pt/C","d":"f","x":1.225,"y":112},{"s":"Pt/C","d":"f","x":1.25,"y":112},{"s":"Pt/C","d":"f","x":1.265,"y":113},
{"s":"Pt/C","d":"b","x":0.05,"y":-50},{"s":"Pt/C","d":"b","x":0.075,"y":-25},{"s":"Pt/C","d":"b","x":0.1,"y":-5},{"s":"Pt/C","d":"b","x":0.125,"y":5},{"s":"Pt/C","d":"b","x":0.15,"y":10},{"s":"Pt/C","d":"b","x":0.175,"y":14},{"s":"Pt/C","d":"b","x":0.2,"y":17},{"s":"Pt/C","d":"b","x":0.225,"y":20},{"s":"Pt/C","d":"b","x":0.25,"y":22},{"s":"Pt/C","d":"b","x":0.275,"y":25},{"s":"Pt/C","d":"b","x":0.3,"y":27},{"s":"Pt/C","d":"b","x":0.325,"y":29},{"s":"Pt/C","d":"b","x":0.35,"y":31},{"s":"Pt/C","d":"b","x":0.375,"y":34},{"s":"Pt/C","d":"b","x":0.4,"y":38},{"s":"Pt/C","d":"b","x":0.425,"y":42},{"s":"Pt/C","d":"b","x":0.45,"y":48},{"s":"Pt/C","d":"b","x":0.475,"y":55},{"s":"Pt/C","d":"b","x":0.5,"y":62},{"s":"Pt/C","d":"b","x":0.525,"y":70},{"s":"Pt/C","d":"b","x":0.55,"y":78},{"s":"Pt/C","d":"b","x":0.575,"y":86},{"s":"Pt/C","d":"b","x":0.6,"y":94},{"s":"Pt/C","d":"b","x":0.625,"y":102},{"s":"Pt/C","d":"b","x":0.65,"y":110},{"s":"Pt/C","d":"b","x":0.675,"y":118},{"s":"Pt/C","d":"b","x":0.7,"y":122},{"s":"Pt/C","d":"b","x":0.725,"y":122},{"s":"Pt/C","d":"b","x":0.75,"y":118},{"s":"Pt/C","d":"b","x":0.775,"y":110},{"s":"Pt/C","d":"b","x":0.8,"y":100},{"s":"Pt/C","d":"b","x":0.825,"y":90},{"s":"Pt/C","d":"b","x":0.85,"y":82},{"s":"Pt/C","d":"b","x":0.875,"y":76},{"s":"Pt/C","d":"b","x":0.9,"y":70},{"s":"Pt/C","d":"b","x":0.925,"y":65},{"s":"Pt/C","d":"b","x":0.95,"y":60},{"s":"Pt/C","d":"b","x":0.975,"y":56},{"s":"Pt/C","d":"b","x":1.0,"y":53},{"s":"Pt/C","d":"b","x":1.025,"y":51},{"s":"Pt/C","d":"b","x":1.05,"y":50},{"s":"Pt/C","d":"b","x":1.075,"y":50},{"s":"Pt/C","d":"b","x":1.1,"y":50},{"s":"Pt/C","d":"b","x":1.125,"y":50},{"s":"Pt/C","d":"b","x":1.15,"y":50},{"s":"Pt/C","d":"b","x":1.175,"y":52},{"s":"Pt/C","d":"b","x":1.2,"y":55},{"s":"Pt/C","d":"b","x":1.225,"y":62},{"s":"Pt/C","d":"b","x":1.25,"y":75},{"s":"Pt/C","d":"b","x":1.265,"y":90}
],
"de": [
{"s":"Pt-10%","x":0.3,"y":0},{"s":"Pt-10%","x":0.315,"y":1},{"s":"Pt-10%","x":0.33,"y":2},{"s":"Pt-10%","x":0.345,"y":3},{"s":"Pt-10%","x":0.36,"y":3},{"s":"Pt-10%","x":0.375,"y":4},{"s":"Pt-10%","x":0.39,"y":5},{"s":"Pt-10%","x":0.405,"y":6},{"s":"Pt-10%","x":0.42,"y":7},{"s":"Pt-10%","x":0.435,"y":8},{"s":"Pt-10%","x":0.45,"y":9},{"s":"Pt-10%","x":0.465,"y":11},{"s":"Pt-10%","x":0.48,"y":13},{"s":"Pt-10%","x":0.495,"y":15},{"s":"Pt-10%","x":0.51,"y":17},{"s":"Pt-10%","x":0.525,"y":19},{"s":"Pt-10%","x":0.54,"y":22},{"s":"Pt-10%","x":0.555,"y":25},{"s":"Pt-10%","x":0.57,"y":28},{"s":"Pt-10%","x":0.585,"y":31},{"s":"Pt-10%","x":0.6,"y":34},{"s":"Pt-10%","x":0.615,"y":37},{"s":"Pt-10%","x":0.63,"y":40},{"s":"Pt-10%","x":0.645,"y":43},{"s":"Pt-10%","x":0.66,"y":47},{"s":"Pt-10%","x":0.675,"y":51},{"s":"Pt-10%","x":0.69,"y":55},{"s":"Pt-10%","x":0.705,"y":59},{"s":"Pt-10%","x":0.72,"y":63},{"s":"Pt-10%","x":0.735,"y":67},{"s":"Pt-10%","x":0.75,"y":71},{"s":"Pt-10%","x":0.765,"y":75},{"s":"Pt-10%","x":0.78,"y":79},{"s":"Pt-10%","x":0.795,"y":84},{"s":"Pt-10%","x":0.81,"y":88},
{"s":"Pt-20%","x":0.3,"y":8},{"s":"Pt-20%","x":0.315,"y":10},{"s":"Pt-20%","x":0.33,"y":12},{"s":"Pt-20%","x":0.345,"y":15},{"s":"Pt-20%","x":0.36,"y":18},{"s":"Pt-20%","x":0.375,"y":21},{"s":"Pt-20%","x":0.39,"y":25},{"s":"Pt-20%","x":0.405,"y":29},{"s":"Pt-20%","x":0.42,"y":34},{"s":"Pt-20%","x":0.435,"y":42},{"s":"Pt-20%","x":0.45,"y":50},{"s":"Pt-20%","x":0.465,"y":58},{"s":"Pt-20%","x":0.48,"y":70},{"s":"Pt-20%","x":0.495,"y":82},{"s":"Pt-20%","x":0.51,"y":98},{"s":"Pt-20%","x":0.525,"y":113},{"s":"Pt-20%","x":0.54,"y":132},{"s":"Pt-20%","x":0.555,"y":155},{"s":"Pt-20%","x":0.57,"y":180},{"s":"Pt-20%","x":0.585,"y":205},{"s":"Pt-20%","x":0.6,"y":235},{"s":"Pt-20%","x":0.615,"y":270},{"s":"Pt-20%","x":0.63,"y":300},{"s":"Pt-20%","x":0.645,"y":328},{"s":"Pt-20%","x":0.66,"y":350},
{"s":"Pt-30%","x":0.3,"y":8},{"s":"Pt-30%","x":0.315,"y":9},{"s":"Pt-30%","x":0.33,"y":10},{"s":"Pt-30%","x":0.345,"y":12},{"s":"Pt-30%","x":0.36,"y":13},{"s":"Pt-30%","x":0.375,"y":15},{"s":"Pt-30%","x":0.39,"y":17},{"s":"Pt-30%","x":0.405,"y":19},{"s":"Pt-30%","x":0.42,"y":22},{"s":"Pt-30%","x":0.435,"y":25},{"s":"Pt-30%","x":0.45,"y":28},{"s":"Pt-30%","x":0.465,"y":31},{"s":"Pt-30%","x":0.48,"y":35},{"s":"Pt-30%","x":0.495,"y":39},{"s":"Pt-30%","x":0.51,"y":44},{"s":"Pt-30%","x":0.525,"y":50},{"s":"Pt-30%","x":0.54,"y":58},{"s":"Pt-30%","x":0.555,"y":67},{"s":"Pt-30%","x":0.57,"y":77},{"s":"Pt-30%","x":0.585,"y":87},{"s":"Pt-30%","x":0.6,"y":98},{"s":"Pt-30%","x":0.615,"y":111},{"s":"Pt-30%","x":0.63,"y":124},{"s":"Pt-30%","x":0.645,"y":138},{"s":"Pt-30%","x":0.66,"y":151},{"s":"Pt-30%","x":0.675,"y":164},{"s":"Pt-30%","x":0.69,"y":176},{"s":"Pt-30%","x":0.705,"y":188},{"s":"Pt-30%","x":0.72,"y":200},{"s":"Pt-30%","x":0.735,"y":213},{"s":"Pt-30%","x":0.75,"y":226},{"s":"Pt-30%","x":0.765,"y":240},{"s":"Pt-30%","x":0.78,"y":249},{"s":"Pt-30%","x":0.795,"y":255},{"s":"Pt-30%","x":0.81,"y":260},
{"s":"Pt/C","x":0.3,"y":22},{"s":"Pt/C","x":0.315,"y":23},{"s":"Pt/C","x":0.33,"y":24},{"s":"Pt/C","x":0.345,"y":25},{"s":"Pt/C","x":0.36,"y":27},{"s":"Pt/C","x":0.375,"y":28},{"s":"Pt/C","x":0.39,"y":31},{"s":"Pt/C","x":0.405,"y":34},{"s":"Pt/C","x":0.42,"y":37},{"s":"Pt/C","x":0.435,"y":41},{"s":"Pt/C","x":0.45,"y":45},{"s":"Pt/C","x":0.465,"y":50},{"s":"Pt/C","x":0.48,"y":56},{"s":"Pt/C","x":0.495,"y":62},{"s":"Pt/C","x":0.51,"y":68},{"s":"Pt/C","x":0.525,"y":75},{"s":"Pt/C","x":0.54,"y":83},{"s":"Pt/C","x":0.555,"y":92},{"s":"Pt/C","x":0.57,"y":102},{"s":"Pt/C","x":0.585,"y":115},{"s":"Pt/C","x":0.6,"y":130},{"s":"Pt/C","x":0.615,"y":147},{"s":"Pt/C","x":0.63,"y":167},{"s":"Pt/C","x":0.645,"y":188},{"s":"Pt/C","x":0.66,"y":212},{"s":"Pt/C","x":0.675,"y":236},{"s":"Pt/C","x":0.69,"y":260},{"s":"Pt/C","x":0.705,"y":287},{"s":"Pt/C","x":0.72,"y":314},{"s":"Pt/C","x":0.735,"y":340},{"s":"Pt/C","x":0.75,"y":365},{"s":"Pt/C","x":0.765,"y":395},{"s":"Pt/C","x":0.78,"y":424}
],
"df": [
{"s":"Pt-10%","x":0,"y":48},{"s":"Pt-10%","x":200,"y":36},{"s":"Pt-10%","x":400,"y":32},{"s":"Pt-10%","x":600,"y":30},{"s":"Pt-10%","x":800,"y":29},{"s":"Pt-10%","x":1000,"y":28},{"s":"Pt-10%","x":1200,"y":27},{"s":"Pt-10%","x":1400,"y":27},{"s":"Pt-10%","x":1600,"y":26},{"s":"Pt-10%","x":1800,"y":26},{"s":"Pt-10%","x":2000,"y":25},{"s":"Pt-10%","x":2200,"y":25},{"s":"Pt-10%","x":2400,"y":24},{"s":"Pt-10%","x":2600,"y":24},{"s":"Pt-10%","x":2800,"y":23},{"s":"Pt-10%","x":3000,"y":23},{"s":"Pt-10%","x":3200,"y":22},{"s":"Pt-10%","x":3400,"y":22},{"s":"Pt-10%","x":3600,"y":21},{"s":"Pt-10%","x":3800,"y":21},{"s":"Pt-10%","x":4000,"y":20},{"s":"Pt-10%","x":4200,"y":20},{"s":"Pt-10%","x":4400,"y":19},{"s":"Pt-10%","x":4600,"y":19},{"s":"Pt-10%","x":4800,"y":19},{"s":"Pt-10%","x":5000,"y":18},{"s":"Pt-10%","x":5200,"y":18},{"s":"Pt-10%","x":5400,"y":17},{"s":"Pt-10%","x":5600,"y":17},{"s":"Pt-10%","x":5800,"y":16},{"s":"Pt-10%","x":6000,"y":16},
{"s":"Pt-20%","x":0,"y":204},{"s":"Pt-20%","x":200,"y":202},{"s":"Pt-20%","x":400,"y":201},{"s":"Pt-20%","x":600,"y":200},{"s":"Pt-20%","x":800,"y":200},{"s":"Pt-20%","x":1000,"y":199},{"s":"Pt-20%","x":1200,"y":199},{"s":"Pt-20%","x":1400,"y":198},{"s":"Pt-20%","x":1600,"y":198},{"s":"Pt-20%","x":1800,"y":197},{"s":"Pt-20%","x":2000,"y":197},{"s":"Pt-20%","x":2200,"y":197},{"s":"Pt-20%","x":2400,"y":196},{"s":"Pt-20%","x":2600,"y":196},{"s":"Pt-20%","x":2800,"y":196},{"s":"Pt-20%","x":3000,"y":195},{"s":"Pt-20%","x":3200,"y":195},{"s":"Pt-20%","x":3400,"y":195},{"s":"Pt-20%","x":3600,"y":194},{"s":"Pt-20%","x":3800,"y":194},{"s":"Pt-20%","x":4000,"y":194},{"s":"Pt-20%","x":4200,"y":194},{"s":"Pt-20%","x":4400,"y":193},{"s":"Pt-20%","x":4600,"y":193},{"s":"Pt-20%","x":4800,"y":193},{"s":"Pt-20%","x":5000,"y":193},{"s":"Pt-20%","x":5200,"y":193},{"s":"Pt-20%","x":5400,"y":192},{"s":"Pt-20%","x":5600,"y":192},{"s":"Pt-20%","x":5800,"y":192},{"s":"Pt-20%","x":6000,"y":192},
{"s":"Pt-30%","x":0,"y":84},{"s":"Pt-30%","x":200,"y":83},{"s":"Pt-30%","x":400,"y":82},{"s":"Pt-30%","x":600,"y":82},{"s":"Pt-30%","x":800,"y":81},{"s":"Pt-30%","x":1000,"y":81},{"s":"Pt-30%","x":1200,"y":81},{"s":"Pt-30%","x":1400,"y":80},{"s":"Pt-30%","x":1600,"y":80},{"s":"Pt-30%","x":1800,"y":80},{"s":"Pt-30%","x":2000,"y":79},{"s":"Pt-30%","x":2200,"y":79},{"s":"Pt-30%","x":2400,"y":79},{"s":"Pt-30%","x":2600,"y":78},{"s":"Pt-30%","x":2800,"y":78},{"s":"Pt-30%","x":3000,"y":78},{"s":"Pt-30%","x":3200,"y":78},{"s":"Pt-30%","x":3400,"y":77},{"s":"Pt-30%","x":3600,"y":77},{"s":"Pt-30%","x":3800,"y":77},{"s":"Pt-30%","x":4000,"y":77},{"s":"Pt-30%","x":4200,"y":76},{"s":"Pt-30%","x":4400,"y":76},{"s":"Pt-30%","x":4600,"y":76},{"s":"Pt-30%","x":4800,"y":76},{"s":"Pt-30%","x":5000,"y":76},{"s":"Pt-30%","x":5200,"y":75},{"s":"Pt-30%","x":5400,"y":75},{"s":"Pt-30%","x":5600,"y":75},{"s":"Pt-30%","x":5800,"y":75},{"s":"Pt-30%","x":6000,"y":75},
{"s":"Pt/C","x":0,"y":11},{"s":"Pt/C","x":200,"y":8},{"s":"Pt/C","x":400,"y":8},{"s":"Pt/C","x":600,"y":7},{"s":"Pt/C","x":800,"y":7},{"s":"Pt/C","x":1000,"y":7},{"s":"Pt/C","x":1200,"y":7},{"s":"Pt/C","x":1400,"y":7},{"s":"Pt/C","x":1600,"y":7},{"s":"Pt/C","x":1800,"y":6},{"s":"Pt/C","x":2000,"y":6},{"s":"Pt/C","x":2200,"y":6},{"s":"Pt/C","x":2400,"y":6},{"s":"Pt/C","x":2600,"y":6},{"s":"Pt/C","x":2800,"y":6},{"s":"Pt/C","x":3000,"y":6},{"s":"Pt/C","x":3200,"y":6},{"s":"Pt/C","x":3400,"y":6},{"s":"Pt/C","x":3600,"y":6},{"s":"Pt/C","x":3800,"y":6},{"s":"Pt/C","x":4000,"y":5},{"s":"Pt/C","x":4200,"y":5},{"s":"Pt/C","x":4400,"y":5},{"s":"Pt/C","x":4600,"y":5},{"s":"Pt/C","x":4800,"y":5},{"s":"Pt/C","x":5000,"y":5},{"s":"Pt/C","x":5200,"y":5},{"s":"Pt/C","x":5400,"y":5},{"s":"Pt/C","x":5600,"y":5},{"s":"Pt/C","x":5800,"y":5},{"s":"Pt/C","x":6000,"y":5}
],
"dd": [
{"c":"10","v":10,"series":"Area activity"},{"c":"20","v":208,"series":"Area activity"},{"c":"30","v":80,"series":"Area activity"},{"c":"Pt/C","v":47,"series":"Area activity"},
{"c":"10","v":101,"series":"Mass activity"},{"c":"20","v":1042,"series":"Mass activity"},{"c":"30","v":266,"series":"Mass activity"},{"c":"Pt/C","v":460,"series":"Mass activity"}
]
},
"resolve": {"scale": {"color": "independent", "stroke": "independent", "fill": "independent", "shape": "independent", "size": "independent"}},
"vconcat": [
{"hconcat": [
 {
  "width": 254, "height": 215,
  "data": {"name": "da"},
  "resolve": {"scale": {"color": "independent", "stroke": "independent", "fill": "independent", "shape": "independent", "size": "independent"}},
  "layer": [
   {"mark": {"type": "line", "strokeWidth": 2},
    "encoding": {
     "x": {"field": "x", "type": "quantitative", "scale": {"domain": [0, 1.275], "nice": false, "zero": false}, "axis": {"values": [0,0.15,0.3,0.45,0.6,0.75,0.9,1.05,1.2], "format": ".1f", "labelExpr": "round(datum.value*100) % 30 === 0 ? datum.label : ''", "title": "Potential (V vs.RHE)", "titlePadding": 15}},
     "y": {"field": "y", "type": "quantitative", "scale": {"domain": [-25.5, 248.5], "nice": false, "zero": false}, "axis": {"values": [0,30,60,90,120,150,180,210,240], "labelExpr": "datum.value % 60 === 0 ? datum.label : ''", "title": "j (mA cm⁻²)", "titlePadding": 7}},
     "color": {"field": "s", "type": "nominal", "scale": {"domain": ["Pt/C","Pt-30%","Pt-20%","Pt-10%"], "range": ["#222222","#1a1aff","#ff4d4d","#23962b"]}, "legend": null}, "detail": {"field": "d"}}},
   {"mark": {"type": "point", "filled": true, "opacity": 1, "strokeWidth": 1.6},
    "encoding": {
     "x": {"field": "x", "type": "quantitative", "scale": {"domain": [0, 1.275], "nice": false, "zero": false}},
     "y": {"field": "y", "type": "quantitative", "scale": {"domain": [-25.5, 248.5], "nice": false, "zero": false}},
     "stroke": {"field": "s", "type": "nominal", "scale": {"domain": ["Pt/C","Pt-30%","Pt-20%","Pt-10%"], "range": ["#222222","#1a1aff","#ff4d4d","#23962b"]}, "legend": null},
     "fill": {"field": "s", "type": "nominal", "scale": {"domain": ["Pt/C","Pt-30%","Pt-20%","Pt-10%"], "range": ["#d9d9d9","#d6d6f2","#ff4d4d","#f4fbf4"]}, "legend": null},
     "shape": {"field": "s", "type": "nominal", "scale": {"domain": ["Pt/C","Pt-30%","Pt-20%","Pt-10%"], "range": ["square","triangle-up","triangle-left","diamond"]}, "legend": null},
     "size": {"field": "s", "type": "nominal", "scale": {"domain": ["Pt/C","Pt-30%","Pt-20%","Pt-10%"], "range": [140,150,110,100]}, "legend": null}
    }},
   {"transform": [{"filter": "datum.x === 0.5"}],
    "mark": {"type": "point", "filled": true, "opacity": 0, "strokeWidth": 2, "size": 169},
    "encoding": {
     "x": {"field": "x", "type": "quantitative", "scale": {"domain": [0, 1.275], "nice": false, "zero": false}},
     "y": {"field": "y", "type": "quantitative", "scale": {"domain": [-25.5, 248.5], "nice": false, "zero": false}},
     "stroke": {"field": "s", "type": "nominal", "scale": {"domain": ["Pt-10%","Pt-20%","Pt-30%","Pt/C"], "range": ["#23962b","#ff4d4d","#1a1aff","#222222"]}},
     "fill": {"field": "s", "type": "nominal", "scale": {"domain": ["Pt-10%","Pt-20%","Pt-30%","Pt/C"], "range": ["#ffffff","#ff4d4d","#d6d6f2","#d9d9d9"]}},
     "shape": {"field": "s", "type": "nominal", "scale": {"domain": ["Pt-10%","Pt-20%","Pt-30%","Pt/C"], "range": ["M-3.4,0H-1M1,0H3.4M0,-1L1,0L0,1L-1,0Z","M-3.4,0H3.4M-1,0L0.9,-1L0.9,1Z","M-3.4,0.2H-0.67M0.67,0.2H3.4M0,-1L1,0.8L-1,0.8Z","M-3.4,0H-1M1,0H3.4M-1,-1H1V1H-1Z"]},
       "legend": {"orient": "none", "legendX": 12, "legendY": 36, "title": null, "padding": 0, "symbolSize": 169, "symbolOffset": 0, "labelOffset": 24, "labelFontSize": 22, "labelFontWeight": "bold", "labelFont": "Liberation Serif", "rowPadding": 9, "symbolStrokeWidth": 2, "symbolOpacity": 1}}
    }},
   {"data": {"values": [{"lab": "(a)"}]}, "mark": {"type": "text", "align": "left", "baseline": "top", "dx": 3, "dy": 2, "fontSize": 32, "fontWeight": "normal"},
    "encoding": {"x": {"datum": 0}, "y": {"datum": 248.5}, "text": {"field": "lab"}}}
  ]
 },
 {
  "width": 259, "height": 215,
  "data": {"name": "db"},
  "layer": [
   {"mark": {"type": "line", "strokeWidth": 2},
    "encoding": {
     "x": {"field": "x", "type": "quantitative", "scale": {"domain": [0, 1.3], "nice": false, "zero": false}, "axis": {"values": [0,0.15,0.3,0.45,0.6,0.75,0.9,1.05,1.2], "format": ".1f", "labelExpr": "round(datum.value*100) % 30 === 0 ? datum.label : ''", "title": "Potential (V vs.RHE)", "titlePadding": 15}},
     "y": {"field": "y", "type": "quantitative", "scale": {"domain": [-93, 1243], "nice": false, "zero": false}, "axis": {"values": [0,150,300,450,600,750,900,1050,1200], "format": "d", "labelExpr": "datum.value % 300 === 0 ? datum.label : ''", "title": "j (mA mg⁻¹ₚₜ)", "titlePadding": 11}},
     "color": {"field": "s", "type": "nominal", "scale": {"domain": ["Pt-10%","Pt-20%","Pt-30%","Pt/C"], "range": ["#23962b","#ff4d4d","#1a1aff","#222222"]}, "legend": null}, "detail": {"field": "d"}}},
   {"mark": {"type": "point", "filled": true, "opacity": 1, "strokeWidth": 1.6},
    "encoding": {
     "x": {"field": "x", "type": "quantitative", "scale": {"domain": [0, 1.3], "nice": false, "zero": false}},
     "y": {"field": "y", "type": "quantitative", "scale": {"domain": [-93, 1243], "nice": false, "zero": false}},
     "stroke": {"field": "s", "type": "nominal", "scale": {"domain": ["Pt-10%","Pt-20%","Pt-30%","Pt/C"], "range": ["#23962b","#ff4d4d","#1a1aff","#222222"]}, "legend": null},
     "fill": {"field": "s", "type": "nominal", "scale": {"domain": ["Pt-10%","Pt-20%","Pt-30%","Pt/C"], "range": ["#f4fbf4","#ff4d4d","#d6d6f2","#d9d9d9"]}, "legend": null},
     "shape": {"field": "s", "type": "nominal", "scale": {"domain": ["Pt-10%","Pt-20%","Pt-30%","Pt/C"], "range": ["diamond","triangle-left","triangle-up","square"]}, "legend": null},
     "size": {"field": "s", "type": "nominal", "scale": {"domain": ["Pt-10%","Pt-20%","Pt-30%","Pt/C"], "range": [100,110,150,140]}, "legend": null}
    }},
   {"data": {"values": [{"lab": "(b)"}]}, "mark": {"type": "text", "align": "left", "baseline": "top", "dx": 3, "dy": 2, "fontSize": 32, "fontWeight": "normal"},
    "encoding": {"x": {"datum": 0}, "y": {"datum": 1243}, "text": {"field": "lab"}}}
  ]
 },
 {
  "width": 260, "height": 215,
  "data": {"values": [{"c":"10","r":2.33},{"c":"20","r":2.66},{"c":"30","r":2.23},{"c":"Pt/C","r":2.41}]},
  "layer": [
   {"mark": {"type": "bar", "width": 27, "stroke": "black", "strokeWidth": 2,
     "fill": {"gradient": "linear", "x1": 0, "y1": 0, "x2": 0.32, "y2": 1.184, "stops": [
      {"offset": 0, "color": "white"},
      {"offset": 0.051, "color": "white"},{"offset": 0.051, "color": "black"},{"offset": 0.069, "color": "black"},{"offset": 0.069, "color": "white"},
      {"offset": 0.169, "color": "white"},{"offset": 0.169, "color": "black"},{"offset": 0.187, "color": "black"},{"offset": 0.187, "color": "white"},
      {"offset": 0.287, "color": "white"},{"offset": 0.287, "color": "black"},{"offset": 0.305, "color": "black"},{"offset": 0.305, "color": "white"},
      {"offset": 0.405, "color": "white"},{"offset": 0.405, "color": "black"},{"offset": 0.423, "color": "black"},{"offset": 0.423, "color": "white"},
      {"offset": 0.523, "color": "white"},{"offset": 0.523, "color": "black"},{"offset": 0.541, "color": "black"},{"offset": 0.541, "color": "white"},
      {"offset": 0.641, "color": "white"},{"offset": 0.641, "color": "black"},{"offset": 0.659, "color": "black"},{"offset": 0.659, "color": "white"},
      {"offset": 0.759, "color": "white"},{"offset": 0.759, "color": "black"},{"offset": 0.777, "color": "black"},{"offset": 0.777, "color": "white"},
      {"offset": 0.877, "color": "white"},{"offset": 0.877, "color": "black"},{"offset": 0.895, "color": "black"},{"offset": 0.895, "color": "white"},
      {"offset": 1, "color": "white"}]}},
    "encoding": {
     "x": {"field": "c", "type": "ordinal", "sort": ["10","20","30","Pt/C"], "scale": {"type": "point", "padding": 0.42, "align": 0.475}, "axis": {"title": "Pt contents (%)", "labelAngle": 0, "ticks": false, "labelPadding": 7, "titlePadding": 15}},
     "y": {"field": "r", "type": "quantitative", "scale": {"domain": [1, 4], "nice": false, "zero": false}, "axis": {"values": [1,1.5,2,2.5,3,3.5,4], "format": "d", "labelExpr": "datum.value % 1 === 0 ? datum.label : ''", "title": "If / Ib", "titleFontStyle": "italic", "titlePadding": 30}},
     "y2": {"datum": 1}}},
   {"mark": {"type": "text", "baseline": "bottom", "dy": -3, "fontSize": 25},
    "encoding": {
     "x": {"field": "c", "type": "ordinal", "sort": ["10","20","30","Pt/C"]},
     "y": {"field": "r", "type": "quantitative"},
     "text": {"field": "r", "type": "quantitative", "format": ".2f"}}},
   {"data": {"values": [{"lab": "(c)"}]}, "mark": {"type": "text", "align": "left", "baseline": "top", "dx": -24, "dy": 2, "fontSize": 32, "fontWeight": "normal"},
    "encoding": {"x": {"datum": "10"}, "y": {"datum": 4}, "text": {"field": "lab"}}}
  ]
 }
], "spacing": 37, "resolve": {"scale": {"color": "independent", "stroke": "independent", "fill": "independent", "shape": "independent", "size": "independent"}}},
{"hconcat": [
 {
  "width": 259, "height": 215,
  "data": {"name": "dd"},
  "encoding": {"x": {"field": "c", "type": "ordinal", "sort": ["10","20","30","Pt/C"], "scale": {"type": "point", "padding": 0.752, "align": 0.347}, "axis": {"title": "Pt contents (%)", "labelAngle": 0, "ticks": false, "labelPadding": 7, "titlePadding": 15}}},
  "layer": [
   {"transform": [{"filter": "datum.series === 'Area activity'"}],
    "encoding": {"y": {"field": "v", "type": "quantitative", "scale": {"domain": [-22.3, 278.4], "nice": false, "zero": false}, "axis": {"orient": "left", "values": [0,25,50,75,100,125,150,175,200,225,250,275], "labelExpr": "datum.value % 50 === 0 ? datum.label : ''", "title": "j (mA cm⁻²)", "titlePadding": 7, "labelColor": "#8b1a1a", "domainColor": "#8b1a1a", "tickColor": "#8b1a1a"}}},
    "layer": [
     {"mark": {"type": "bar", "width": 24, "strokeWidth": 2},
      "encoding": {
       "y2": {"datum": -22.3},
       "stroke": {"field": "series", "type": "nominal", "scale": {"domain": ["Area activity","Mass activity"], "range": ["#8b1a1a","#00008b"]},
        "legend": {"orient": "none", "legendX": 91, "legendY": -1, "title": null, "padding": 0, "symbolSize": 256, "symbolOffset": 0, "labelOffset": 20, "labelFontSize": 21, "labelFontWeight": "bold", "labelFont": "Liberation Serif", "rowPadding": 5, "symbolStrokeWidth": 2.2,
         "encode": {"symbols": {"update": {"size": {"value": 256}, "strokeWidth": {"value": 2.2}, "shape": {"signal": "datum.value === 'Area activity' ? 'M-2,-0.95H2V0.95H-2ZM-1.7,0.95L-0.8,-0.95M-0.5,0.95L0.4,-0.95M0.7,0.95L1.6,-0.95' : 'M-2,-0.95H2V0.95H-2ZM-2,0H2'"}, "fill": {"value": "white"}, "opacity": {"value": 1}}}}}},
       "fill": {"condition": [
         {"test": "datum.c === '10'", "value": {"gradient": "linear", "x1": 0, "y1": 0, "x2": 1.02, "y2": 0.98, "stops": [{"offset": 0, "color": "white"},{"offset": 0.256, "color": "white"},{"offset": 0.256, "color": "#8b1a1a"},{"offset": 0.304, "color": "#8b1a1a"},{"offset": 0.304, "color": "white"},{"offset": 0.706, "color": "white"},{"offset": 0.706, "color": "#8b1a1a"},{"offset": 0.754, "color": "#8b1a1a"},{"offset": 0.754, "color": "white"},{"offset": 1, "color": "white"}]}},
         {"test": "datum.c === '20'", "value": {"gradient": "linear", "x1": 0, "y1": 0, "x2": 0.163, "y2": 1.121, "stops": [{"offset": 0, "color": "white"},
           {"offset": 0.05, "color": "white"},{"offset": 0.05, "color": "#8b1a1a"},{"offset": 0.062, "color": "#8b1a1a"},{"offset": 0.062, "color": "white"},
           {"offset": 0.162, "color": "white"},{"offset": 0.162, "color": "#8b1a1a"},{"offset": 0.174, "color": "#8b1a1a"},{"offset": 0.174, "color": "white"},
           {"offset": 0.274, "color": "white"},{"offset": 0.274, "color": "#8b1a1a"},{"offset": 0.286, "color": "#8b1a1a"},{"offset": 0.286, "color": "white"},
           {"offset": 0.386, "color": "white"},{"offset": 0.386, "color": "#8b1a1a"},{"offset": 0.398, "color": "#8b1a1a"},{"offset": 0.398, "color": "white"},
           {"offset": 0.498, "color": "white"},{"offset": 0.498, "color": "#8b1a1a"},{"offset": 0.51, "color": "#8b1a1a"},{"offset": 0.51, "color": "white"},
           {"offset": 0.61, "color": "white"},{"offset": 0.61, "color": "#8b1a1a"},{"offset": 0.622, "color": "#8b1a1a"},{"offset": 0.622, "color": "white"},
           {"offset": 0.722, "color": "white"},{"offset": 0.722, "color": "#8b1a1a"},{"offset": 0.734, "color": "#8b1a1a"},{"offset": 0.734, "color": "white"},
           {"offset": 0.834, "color": "white"},{"offset": 0.834, "color": "#8b1a1a"},{"offset": 0.846, "color": "#8b1a1a"},{"offset": 0.846, "color": "white"},
           {"offset": 0.946, "color": "white"},{"offset": 0.946, "color": "#8b1a1a"},{"offset": 0.958, "color": "#8b1a1a"},{"offset": 0.958, "color": "white"},
           {"offset": 1, "color": "white"}]}},
         {"test": "datum.c === '30'", "value": {"gradient": "linear", "x1": 0, "y1": 0, "x2": 0.395, "y2": 1.2, "stops": [{"offset": 0, "color": "white"},
           {"offset": 0.098, "color": "white"},{"offset": 0.098, "color": "#8b1a1a"},{"offset": 0.122, "color": "#8b1a1a"},{"offset": 0.122, "color": "white"},
           {"offset": 0.318, "color": "white"},{"offset": 0.318, "color": "#8b1a1a"},{"offset": 0.342, "color": "#8b1a1a"},{"offset": 0.342, "color": "white"},
           {"offset": 0.538, "color": "white"},{"offset": 0.538, "color": "#8b1a1a"},{"offset": 0.562, "color": "#8b1a1a"},{"offset": 0.562, "color": "white"},
           {"offset": 0.758, "color": "white"},{"offset": 0.758, "color": "#8b1a1a"},{"offset": 0.782, "color": "#8b1a1a"},{"offset": 0.782, "color": "white"},
           {"offset": 1, "color": "white"}]}}
        ],
        "value": {"gradient": "linear", "x1": 0, "y1": 0, "x2": 0.581, "y2": 1.203, "stops": [{"offset": 0, "color": "white"},
           {"offset": 0.125, "color": "white"},{"offset": 0.125, "color": "#8b1a1a"},{"offset": 0.155, "color": "#8b1a1a"},{"offset": 0.155, "color": "white"},
           {"offset": 0.415, "color": "white"},{"offset": 0.415, "color": "#8b1a1a"},{"offset": 0.445, "color": "#8b1a1a"},{"offset": 0.445, "color": "white"},
           {"offset": 0.705, "color": "white"},{"offset": 0.705, "color": "#8b1a1a"},{"offset": 0.735, "color": "#8b1a1a"},{"offset": 0.735, "color": "white"},
           {"offset": 1, "color": "white"}]}}
      }},
     {"transform": [{"filter": "datum.c !== '20'"}], "mark": {"type": "text", "baseline": "bottom", "dy": -3, "fontSize": 24}, "encoding": {"text": {"field": "v", "type": "quantitative"}}},
     {"transform": [{"filter": "datum.c === '20'"}], "mark": {"type": "text", "align": "right", "baseline": "middle", "dx": -14, "dy": -8, "fontSize": 24}, "encoding": {"text": {"field": "v", "type": "quantitative"}}}
    ]},
   {"transform": [{"filter": "datum.series === 'Mass activity'"}],
    "encoding": {"y": {"field": "v", "type": "quantitative", "scale": {"domain": [0, 1483], "nice": false, "zero": false}, "axis": {"orient": "right", "values": [0,175,350,525,700,875,1050,1225,1400], "format": "d", "labelExpr": "datum.value % 350 === 0 ? datum.label : ''", "title": null, "labelColor": "#00008b", "domainColor": "#00008b", "tickColor": "#00008b"}}},
    "layer": [
     {"mark": {"type": "bar", "width": 24, "xOffset": 24, "strokeWidth": 2},
      "encoding": {
       "y2": {"datum": 0},
       "stroke": {"field": "series", "type": "nominal"},
       "fill": {"condition": [
         {"test": "datum.c === '10'", "value": {"gradient": "linear", "x1": 0, "y1": 0, "x2": 0, "y2": 1, "stops": [{"offset": 0, "color": "white"},{"offset": 0.222, "color": "white"},{"offset": 0.222, "color": "#00008b"},{"offset": 0.358, "color": "#00008b"},{"offset": 0.358, "color": "white"},{"offset": 1, "color": "white"}]}},
         {"test": "datum.c === '20'", "value": {"gradient": "linear", "x1": 0, "y1": 0, "x2": 0, "y2": 1, "stops": [{"offset": 0, "color": "white"},
           {"offset": 0.029, "color": "white"},{"offset": 0.029, "color": "#00008b"},{"offset": 0.043, "color": "#00008b"},{"offset": 0.043, "color": "white"},
           {"offset": 0.098, "color": "white"},{"offset": 0.098, "color": "#00008b"},{"offset": 0.112, "color": "#00008b"},{"offset": 0.112, "color": "white"},
           {"offset": 0.167, "color": "white"},{"offset": 0.167, "color": "#00008b"},{"offset": 0.181, "color": "#00008b"},{"offset": 0.181, "color": "white"},
           {"offset": 0.236, "color": "white"},{"offset": 0.236, "color": "#00008b"},{"offset": 0.25, "color": "#00008b"},{"offset": 0.25, "color": "white"},
           {"offset": 0.304, "color": "white"},{"offset": 0.304, "color": "#00008b"},{"offset": 0.318, "color": "#00008b"},{"offset": 0.318, "color": "white"},
           {"offset": 0.373, "color": "white"},{"offset": 0.373, "color": "#00008b"},{"offset": 0.387, "color": "#00008b"},{"offset": 0.387, "color": "white"},
           {"offset": 0.442, "color": "white"},{"offset": 0.442, "color": "#00008b"},{"offset": 0.456, "color": "#00008b"},{"offset": 0.456, "color": "white"},
           {"offset": 0.511, "color": "white"},{"offset": 0.511, "color": "#00008b"},{"offset": 0.525, "color": "#00008b"},{"offset": 0.525, "color": "white"},
           {"offset": 0.58, "color": "white"},{"offset": 0.58, "color": "#00008b"},{"offset": 0.594, "color": "#00008b"},{"offset": 0.594, "color": "white"},
           {"offset": 0.649, "color": "white"},{"offset": 0.649, "color": "#00008b"},{"offset": 0.663, "color": "#00008b"},{"offset": 0.663, "color": "white"},
           {"offset": 0.718, "color": "white"},{"offset": 0.718, "color": "#00008b"},{"offset": 0.732, "color": "#00008b"},{"offset": 0.732, "color": "white"},
           {"offset": 0.786, "color": "white"},{"offset": 0.786, "color": "#00008b"},{"offset": 0.8, "color": "#00008b"},{"offset": 0.8, "color": "white"},
           {"offset": 0.855, "color": "white"},{"offset": 0.855, "color": "#00008b"},{"offset": 0.869, "color": "#00008b"},{"offset": 0.869, "color": "white"},
           {"offset": 0.924, "color": "white"},{"offset": 0.924, "color": "#00008b"},{"offset": 0.938, "color": "#00008b"},{"offset": 0.938, "color": "white"},
           {"offset": 1, "color": "white"}]}},
         {"test": "datum.c === '30'", "value": {"gradient": "linear", "x1": 0, "y1": 0, "x2": 0, "y2": 1, "stops": [{"offset": 0, "color": "white"},
           {"offset": 0.171, "color": "white"},{"offset": 0.171, "color": "#00008b"},{"offset": 0.223, "color": "#00008b"},{"offset": 0.223, "color": "white"},
           {"offset": 0.439, "color": "white"},{"offset": 0.439, "color": "#00008b"},{"offset": 0.491, "color": "#00008b"},{"offset": 0.491, "color": "white"},
           {"offset": 0.707, "color": "white"},{"offset": 0.707, "color": "#00008b"},{"offset": 0.759, "color": "#00008b"},{"offset": 0.759, "color": "white"},
           {"offset": 1, "color": "white"}]}}
        ],
        "value": {"gradient": "linear", "x1": 0, "y1": 0, "x2": 0, "y2": 1, "stops": [{"offset": 0, "color": "white"},
           {"offset": 0.057, "color": "white"},{"offset": 0.057, "color": "#00008b"},{"offset": 0.087, "color": "#00008b"},{"offset": 0.087, "color": "white"},
           {"offset": 0.212, "color": "white"},{"offset": 0.212, "color": "#00008b"},{"offset": 0.242, "color": "#00008b"},{"offset": 0.242, "color": "white"},
           {"offset": 0.366, "color": "white"},{"offset": 0.366, "color": "#00008b"},{"offset": 0.396, "color": "#00008b"},{"offset": 0.396, "color": "white"},
           {"offset": 0.521, "color": "white"},{"offset": 0.521, "color": "#00008b"},{"offset": 0.551, "color": "#00008b"},{"offset": 0.551, "color": "white"},
           {"offset": 0.675, "color": "white"},{"offset": 0.675, "color": "#00008b"},{"offset": 0.705, "color": "#00008b"},{"offset": 0.705, "color": "white"},
           {"offset": 0.83, "color": "white"},{"offset": 0.83, "color": "#00008b"},{"offset": 0.86, "color": "#00008b"},{"offset": 0.86, "color": "white"},
           {"offset": 1, "color": "white"}]}}
      }},
     {"transform": [{"filter": "datum.c !== '20'"}], "mark": {"type": "text", "baseline": "bottom", "dx": 24, "dy": -3, "fontSize": 24}, "encoding": {"text": {"field": "v", "type": "quantitative"}}},
     {"transform": [{"filter": "datum.c === '20'"}], "mark": {"type": "text", "align": "left", "baseline": "middle", "dx": 38, "fontSize": 24}, "encoding": {"text": {"field": "v", "type": "quantitative"}}}
    ]},
   {"data": {"values": [{"lab": "(d)"}]}, "mark": {"type": "text", "align": "left", "baseline": "top", "dx": -27, "dy": 2, "fontSize": 32, "fontWeight": "normal"},
    "encoding": {"x": {"datum": "10"}, "y": {"datum": 1, "scale": {"domain": [0, 1]}, "axis": null}, "text": {"field": "lab"}}}
  ],
  "resolve": {"scale": {"y": "independent"}}
 },
 {
  "width": 260, "height": 210,
  "layer": [
   {"data": {"values": [{"ref": 100}]}, "mark": {"type": "rule", "color": "black", "strokeWidth": 1.5},
    "encoding": {"y": {"field": "ref", "type": "quantitative", "scale": {"domain": [-2, 418], "nice": false, "zero": false}}}},
   {"data": {"name": "de"}, "mark": {"type": "line", "strokeWidth": 2},
    "encoding": {
     "x": {"field": "x", "type": "quantitative", "scale": {"domain": [0.3, 0.818], "nice": false, "zero": false}, "axis": {"values": [0.3,0.35,0.4,0.45,0.5,0.55,0.6,0.65,0.7,0.75,0.8], "format": ".1f", "labelExpr": "round(datum.value*100) % 10 === 0 ? datum.label : ''", "title": "Potential (V vs.RHE)", "titlePadding": 15}},
     "y": {"field": "y", "type": "quantitative", "scale": {"domain": [-2, 418], "nice": false, "zero": false}, "axis": {"values": [0,50,100,150,200,250,300,350,400], "labelExpr": "datum.value % 100 === 0 ? datum.label : ''", "title": "j (mA mg⁻¹ₚₜ)", "titlePadding": 3}},
     "color": {"field": "s", "type": "nominal", "scale": {"domain": ["Pt-10%","Pt-20%","Pt-30%","Pt/C"], "range": ["#23962b","#ff4d4d","#1a1aff","#222222"]}, "legend": null}}},
   {"data": {"name": "de"}, "mark": {"type": "point", "filled": true, "opacity": 1, "strokeWidth": 1.6},
    "encoding": {
     "x": {"field": "x", "type": "quantitative", "scale": {"domain": [0.3, 0.818], "nice": false, "zero": false}},
     "y": {"field": "y", "type": "quantitative", "scale": {"domain": [-2, 418], "nice": false, "zero": false}},
     "stroke": {"field": "s", "type": "nominal", "scale": {"domain": ["Pt-10%","Pt-20%","Pt-30%","Pt/C"], "range": ["#23962b","#ff4d4d","#1a1aff","#222222"]}, "legend": null},
     "fill": {"field": "s", "type": "nominal", "scale": {"domain": ["Pt-10%","Pt-20%","Pt-30%","Pt/C"], "range": ["#f4fbf4","#ff4d4d","#d6d6f2","#d9d9d9"]}, "legend": null},
     "shape": {"field": "s", "type": "nominal", "scale": {"domain": ["Pt-10%","Pt-20%","Pt-30%","Pt/C"], "range": ["diamond","triangle-left","triangle-up","square"]}, "legend": null},
     "size": {"field": "s", "type": "nominal", "scale": {"domain": ["Pt-10%","Pt-20%","Pt-30%","Pt/C"], "range": [100,110,150,140]}, "legend": null}
    }},
   {"data": {"values": [{"lab": "(e)"}]}, "mark": {"type": "text", "align": "left", "baseline": "top", "dx": 3, "dy": 2, "fontSize": 32, "fontWeight": "normal"},
    "encoding": {"x": {"datum": 0.3}, "y": {"datum": 418}, "text": {"field": "lab"}}}
  ]
 },
 {
  "width": 260, "height": 215,
  "data": {"name": "df"},
  "encoding": {
   "x": {"field": "x", "type": "quantitative", "scale": {"domain": [0, 6000], "nice": false, "zero": false}, "axis": {"values": [0,1000,2000,3000,4000,5000,6000], "format": "d", "labelExpr": "datum.value % 2000 === 0 ? datum.label : ''", "title": "Time (s)", "titlePadding": 15}},
   "y": {"field": "y", "type": "quantitative", "scale": {"domain": [-42, 280], "nice": false, "zero": false}, "axis": {"values": [-30,0,30,60,90,120,150,180,210,240,270], "labelExpr": "datum.value % 60 === 0 && datum.value >= 0 ? datum.label : ''", "title": "j (mA cm⁻²)", "labelPadding": 16, "titlePadding": 32}}
  },
  "layer": [
   {"mark": {"type": "line", "strokeWidth": 2},
    "encoding": {"color": {"field": "s", "type": "nominal", "scale": {"domain": ["Pt-10%","Pt-20%","Pt-30%","Pt/C"], "range": ["#23962b","#ff4d4d","#1a1aff","#222222"]}, "legend": null}}},
   {"mark": {"type": "point", "filled": true, "opacity": 1, "strokeWidth": 1.6},
    "encoding": {
     "stroke": {"field": "s", "type": "nominal", "scale": {"domain": ["Pt-10%","Pt-20%","Pt-30%","Pt/C"], "range": ["#23962b","#ff4d4d","#1a1aff","#222222"]}, "legend": null},
     "fill": {"field": "s", "type": "nominal", "scale": {"domain": ["Pt-10%","Pt-20%","Pt-30%","Pt/C"], "range": ["#f4fbf4","#ff4d4d","#d6d6f2","#d9d9d9"]}, "legend": null},
     "shape": {"field": "s", "type": "nominal", "scale": {"domain": ["Pt-10%","Pt-20%","Pt-30%","Pt/C"], "range": ["diamond","triangle-left","triangle-up","square"]}, "legend": null},
     "size": {"field": "s", "type": "nominal", "scale": {"domain": ["Pt-10%","Pt-20%","Pt-30%","Pt/C"], "range": [100,110,150,140]}, "legend": null}
    }},
   {"data": {"values": [{"x": 5900, "y": 220, "lab": "94.1%", "s": "Pt-20%"},{"x": 5900, "y": 103, "lab": "90.3%", "s": "Pt-30%"},{"x": 5900, "y": 43, "lab": "69.1%", "s": "Pt-10%"},{"x": 5900, "y": -25, "lab": "38.1%", "s": "Pt/C"}]},
    "mark": {"type": "text", "align": "right", "baseline": "middle", "fontSize": 23},
    "encoding": {"text": {"field": "lab"}, "color": {"field": "s", "type": "nominal", "scale": {"domain": ["Pt-10%","Pt-20%","Pt-30%","Pt/C"], "range": ["#23962b","#ff4d4d","#1a1aff","#222222"]}, "legend": null}}},
   {"data": {"values": [{"x": 0, "y": 280, "lab": "(f)"}]},
    "mark": {"type": "text", "align": "left", "baseline": "top", "dx": 3, "dy": 2, "fontSize": 32, "fontWeight": "normal"},
    "encoding": {"text": {"field": "lab"}}}
  ]
 }
], "spacing": 5, "resolve": {"scale": {"color": "independent", "stroke": "independent", "fill": "independent", "shape": "independent", "size": "independent"}}}
],
"spacing": 7
}
